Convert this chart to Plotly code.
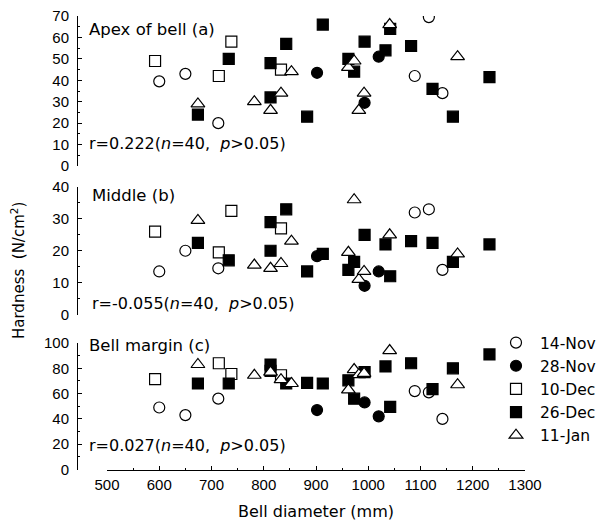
import plotly.graph_objects as go

# ---------------- data ----------------
series_names = ["14-Nov", "28-Nov", "10-Dec", "26-Dec", "11-Jan"]

nov14_x = [600, 650, 713, 1089, 1116, 1142]
nov14_apex = [39.5, 43, 20, 42, 69.5, 34]
nov14_middle = [13.5, 20, 14.5, 32, 33, 14]
nov14_margin = [49, 43, 56, 62, 61, 40]

nov28_x = [902, 993, 1020]
nov28_apex = [43.5, 29.5, 51]
nov28_middle = [18.3, 9, 13.5]
nov28_margin = [47, 53, 42]

dec10_x = [592, 714, 738, 833]
dec10_apex = [49, 42, 58, 45]
dec10_middle = [26, 19.5, 32.5, 27]
dec10_margin = [71.5, 84, 75.5, 74.5]

dec26_x = [674, 733, 813, 813, 843, 883, 913, 962, 973, 993, 1033, 1042, 1082, 1123, 1162, 1232]
dec26_apex = [24, 50, 48, 32, 57, 23, 66, 50, 44, 58, 54, 64, 56, 36, 23, 41.5]
dec26_middle = [22.5, 17, 29, 20, 33, 13.5, 19, 14, 16.5, 25, 22, 12, 23, 22.5, 16.5, 22]
dec26_margin = [68, 68, 83, 78, 68, 68.5, 68, 70.5, 56, 77, 81.5, 49.5, 84, 63.5, 80, 91]

jan11_x = [674, 782, 813, 833, 853, 962, 973, 982, 992, 1041, 1171]
jan11_apex = [29, 30, 26, 34, 44, 46, 49, 26, 34, 66, 51]
jan11_middle = [29.5, 15.5, 14.5, 16, 23, 19.5, 36, 11, 13.5, 25, 19]
jan11_margin = [83, 74.5, 77, 71, 68, 63, 79, 75, 76, 94, 67]

panel_labels = ["Apex of bell (a)", "Middle (b)", "Bell margin (c)"]
r_values = ["0.222", "-0.055", "0.027"]
x_ticks = [500, 600, 700, 800, 900, 1000, 1100, 1200, 1300]

# ---------------- figure ----------------
W, H = 606, 527
FONT = "DejaVu Sans, sans-serif"
TICKFONT = "Liberation Sans, Arial, sans-serif"

styles = {
    "14-Nov": dict(symbol="circle", color="white"),
    "28-Nov": dict(symbol="circle", color="black"),
    "10-Dec": dict(symbol="square", color="white"),
    "26-Dec": dict(symbol="square", color="black"),
    "11-Jan": dict(symbol="triangle-up", color="white"),
}
sizes = {"14-Nov": 11, "28-Nov": 11, "10-Dec": 11, "26-Dec": 11, "11-Jan": 12}

series = {
    "14-Nov": (nov14_x, [nov14_apex, nov14_middle, nov14_margin]),
    "28-Nov": (nov28_x, [nov28_apex, nov28_middle, nov28_margin]),
    "10-Dec": (dec10_x, [dec10_apex, dec10_middle, dec10_margin]),
    "26-Dec": (dec26_x, [dec26_apex, dec26_middle, dec26_margin]),
    "11-Jan": (jan11_x, [jan11_apex, jan11_middle, jan11_margin]),
}

fig = go.Figure()
axes = [("x", "y"), ("x2", "y2"), ("x3", "y3")]
for name in series_names:
    xs, ys = series[name]
    for p, (xa, ya) in enumerate(axes):
        st = styles[name]
        fig.add_trace(go.Scatter(
            x=xs, y=ys[p], mode="markers", name=name,
            xaxis=xa, yaxis=ya,
            showlegend=(p == 2), legendgroup=name,
            marker=dict(symbol=st["symbol"], color=st["color"],
                        line=dict(color="black", width=1.2), size=sizes[name]),
        ))

def px_x(v):
    return v / W

def px_y(v):
    return 1 - v / H

xdom = [px_x(107), px_x(525)]
ydoms = [[px_y(166), px_y(16)], [px_y(314.5), px_y(187)], [px_y(469.5), px_y(343)]]
yranges = [[0, 70], [0, 40], [0, 100]]
ydticks = [10, 10, 20]

tickfont = dict(family=TICKFONT, size=15, color="black")
layout = dict(
    template="none",
    width=W, height=H, margin=dict(l=0, r=0, t=0, b=0, autoexpand=False),
    paper_bgcolor="white", plot_bgcolor="white",
    font=dict(family=FONT, size=15, color="black"),
    showlegend=True,
    legend=dict(x=px_x(492), y=px_y(326), xanchor="left", yanchor="top",
                font=dict(family=FONT, size=15.5, color="black"),
                bgcolor="rgba(0,0,0,0)", borderwidth=0, tracegroupgap=0,
                itemsizing="trace", itemwidth=38),
)
for i in range(3):
    sfx = "" if i == 0 else str(i + 1)
    xa = dict(domain=xdom, range=[500, 1300], anchor="y" + sfx, automargin=False,
              showgrid=False, zeroline=False)
    if i < 2:
        xa.update(visible=False, matches="x3")
    else:
        xa.update(showline=True, linecolor="black", linewidth=1,
                  ticks="inside", ticklen=4, tickcolor="black",
                  tickvals=x_ticks, tickfont=tickfont, ticklabelstandoff=1,
                  minor=dict(ticks="inside", ticklen=2, dtick=50, tick0=500, tickcolor="black"),
                  title=dict(text="Bell diameter (mm)", font=dict(family=FONT, size=16), standoff=14))
    layout["xaxis" + sfx] = xa
    layout["yaxis" + sfx] = dict(
        domain=ydoms[i], range=yranges[i], anchor="free", position=px_x(77), automargin=False,
        showgrid=False, zeroline=False, showline=True, linecolor="black", linewidth=1,
        ticks="inside", ticklen=4, tickcolor="black", dtick=ydticks[i], tick0=0,
        tickfont=tickfont, ticklabelstandoff=5,
        minor=dict(ticks="inside", ticklen=2, dtick=ydticks[i] / 2, tickcolor="black"),
    )
fig.update_layout(**layout)

label_y = [30, 195, 345]
r_y = [144, 303, 445]
label_x = [87, 90, 87]
for i in range(3):
    fig.add_annotation(x=px_x(label_x[i]), y=px_y(label_y[i]), xref="paper", yref="paper",
                       text=panel_labels[i], showarrow=False, xanchor="left", yanchor="middle",
                       font=dict(family=FONT, size=16.5, color="black"))
    fig.add_annotation(x=px_x(label_x[i]), y=px_y(r_y[i]), xref="paper", yref="paper",
                       text="r=" + r_values[i] + "(<i>n</i>=40,  <i>p</i>&gt;0.05)",
                       showarrow=False, xanchor="left", yanchor="middle",
                       font=dict(family=FONT, size=16, color="black"))

fig.add_annotation(x=px_x(18), y=px_y(271), xref="paper", yref="paper",
                   text="Hardness  (N/cm<sup>2</sup>)", textangle=-90, showarrow=False,
                   xanchor="center", yanchor="middle",
                   font=dict(family=FONT, size=15, color="black"))

fig.write_html("out.html", config={"displayModeBar": False},
               post_script="document.body.style.margin='0';document.body.style.overflow='hidden';")
